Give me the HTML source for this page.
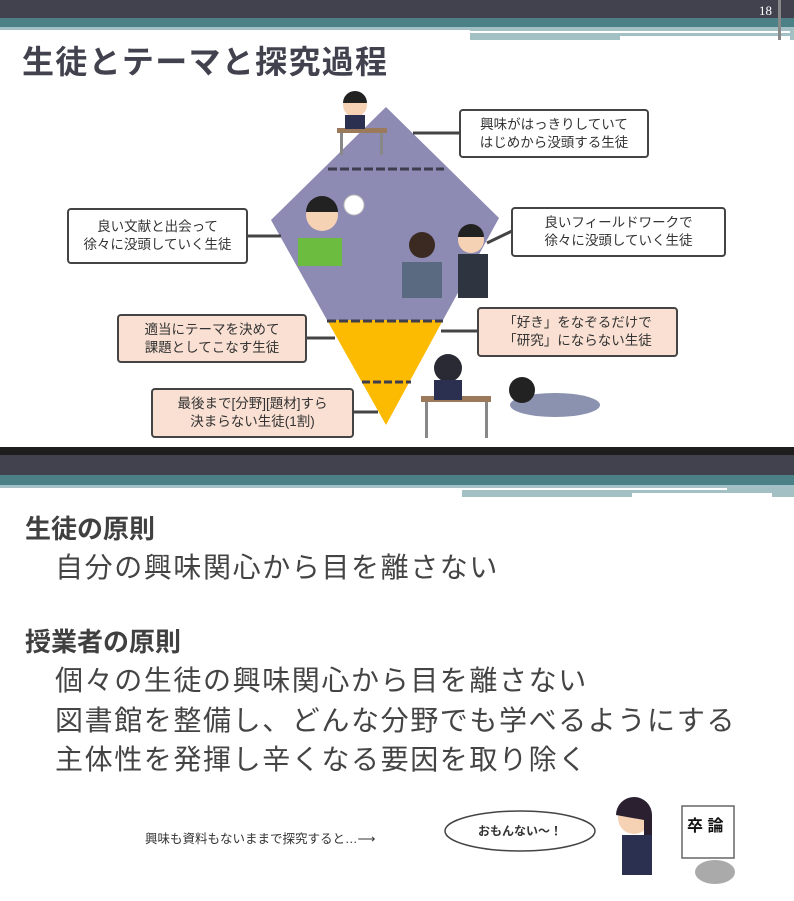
<!DOCTYPE html>
<html><head><meta charset="utf-8"><style>
body{margin:0;width:794px;height:901px;position:relative;background:#fff;overflow:hidden;font-family:"Liberation Sans","Noto Sans CJK JP",sans-serif;}
.a{position:absolute;}
.box{position:absolute;border:2px solid #444;border-radius:4px;font-size:13.5px;line-height:18px;color:#333;text-align:center;box-sizing:border-box;display:flex;align-items:center;justify-content:center;}
.w{background:#fff}.p{background:#f9e0d3}
.t{position:absolute;color:#444;font-size:28px;left:55px;letter-spacing:1.6px;}
.h{position:absolute;left:25px;font-size:26px;font-weight:bold;color:#404040;}
</style></head><body>
<svg class="a" style="left:0;top:0" width="794" height="901">
<rect x="0" y="0" width="794" height="18" fill="#42424f"/>
<rect x="0" y="18" width="794" height="9" fill="#4a8086"/>
<rect x="0" y="27" width="470" height="3" fill="#a3c1c4"/>
<rect x="470" y="27" width="324" height="13" fill="#a3c1c4"/>
<rect x="470" y="31" width="320" height="2" fill="#fff"/>
<rect x="620" y="36" width="170" height="5" fill="#fff"/>
<rect x="778" y="0" width="3" height="40" fill="#888"/>
<polygon points="386,107 499,218 443,320 327,320 271,220" fill="#8d8ab3"/>
<polygon points="327,320 443,320 386,425" fill="#fcbb00"/>
<line x1="328" y1="169" x2="444" y2="169" stroke="#3d3d4d" stroke-width="3" stroke-dasharray="9,3"/>
<line x1="327" y1="321" x2="443" y2="321" stroke="#3d3d4d" stroke-width="3" stroke-dasharray="9,3"/>
<line x1="362" y1="382" x2="411" y2="382" stroke="#3d3d4d" stroke-width="3" stroke-dasharray="8,3"/>
<g stroke="#444" stroke-width="3">
<line x1="413" y1="133" x2="460" y2="133"/>
<line x1="247" y1="236" x2="281" y2="236"/>
<line x1="487" y1="243" x2="512" y2="231"/>
<line x1="306" y1="338" x2="335" y2="338"/>
<line x1="441" y1="331" x2="478" y2="331"/>
<line x1="353" y1="412" x2="378" y2="412"/>
</g>
<rect x="337" y="128" width="50" height="5" fill="#9a7a5a"/><rect x="340" y="133" width="3" height="22" fill="#888"/><rect x="380" y="133" width="3" height="22" fill="#888"/>
<circle cx="355" cy="105" r="12" fill="#f6d2b5"/><path d="M343 103 a12 12 0 0 1 24 0z" fill="#222"/><rect x="345" y="115" width="20" height="14" fill="#2c3050"/>
<circle cx="322" cy="215" r="16" fill="#f6d2b5"/><path d="M306 212 a16 16 0 0 1 32 0z" fill="#222"/><rect x="298" y="238" width="44" height="28" fill="#6cbd3f"/>
<circle cx="354" cy="205" r="10" fill="#fff" stroke="#bbb"/>
<circle cx="422" cy="245" r="13" fill="#3a2a22"/><rect x="402" y="262" width="40" height="36" fill="#5a6a80"/>
<circle cx="471" cy="240" r="13" fill="#f6d2b5"/><path d="M458 237 a13 13 0 0 1 26 0z" fill="#222"/><rect x="458" y="254" width="30" height="44" fill="#2e3440"/>
<rect x="421" y="396" width="70" height="6" fill="#9a7a5a"/><rect x="425" y="402" width="3" height="36" fill="#888"/><rect x="485" y="402" width="3" height="36" fill="#888"/>
<circle cx="448" cy="368" r="14" fill="#2a2a35"/><rect x="434" y="380" width="28" height="20" fill="#2c3050"/>
<ellipse cx="555" cy="405" rx="45" ry="12" fill="#8a92b0"/><circle cx="522" cy="390" r="13" fill="#222"/>
<rect x="0" y="447" width="794" height="8" fill="#1e1e1e"/>
<rect x="0" y="455" width="794" height="20" fill="#42424f"/>
<rect x="0" y="475" width="794" height="10" fill="#4a8086"/>
<rect x="0" y="485" width="462" height="3" fill="#a3c1c4"/>
<rect x="462" y="485" width="332" height="12" fill="#a3c1c4"/>
<rect x="462" y="488" width="265" height="2" fill="#fff"/>
<rect x="632" y="493" width="140" height="5" fill="#fff"/>
<ellipse cx="520" cy="831" rx="75" ry="20" fill="#fff" stroke="#444" stroke-width="1.5"/>
<circle cx="634" cy="818" r="16" fill="#f6d2b5"/><path d="M616 815 a18 18 0 0 1 36 0 l0 25 -8 0 0 -20z" fill="#2a2030"/>
<rect x="622" y="835" width="30" height="40" fill="#2c3050"/>
<rect x="682" y="806" width="52" height="52" fill="#fff" stroke="#666" stroke-width="1.5"/>
<ellipse cx="715" cy="872" rx="20" ry="12" fill="#aaa"/>
</svg>
<div class="a" style="left:759px;top:3px;color:#fff;font-size:13px;font-family:'Liberation Serif',serif">18</div>
<div class="a" style="left:22px;top:37px;font-size:32px;font-weight:bold;color:#42424f;letter-spacing:1.3px">生徒とテーマと探究過程</div>
<div class="box w" style="left:459px;top:109px;width:190px;height:49px">興味がはっきりしていて<br>はじめから没頭する生徒</div>
<div class="box w" style="left:67px;top:208px;width:181px;height:56px">良い文献と出会って<br>徐々に没頭していく生徒</div>
<div class="box w" style="left:511px;top:207px;width:215px;height:50px">良いフィールドワークで<br>徐々に没頭していく生徒</div>
<div class="box p" style="left:117px;top:314px;width:190px;height:49px">適当にテーマを決めて<br>課題としてこなす生徒</div>
<div class="box p" style="left:477px;top:307px;width:201px;height:50px">「好き」をなぞるだけで<br>「研究」にならない生徒</div>
<div class="box p" style="left:151px;top:388px;width:203px;height:50px">最後まで[分野][題材]すら<br>決まらない生徒(1割)</div>
<div class="h" style="top:509px">生徒の原則</div>
<div class="t" style="top:546px">自分の興味関心から目を離さない</div>
<div class="h" style="top:622px">授業者の原則</div>
<div class="t" style="top:659px">個々の生徒の興味関心から目を離さない</div>
<div class="t" style="top:699px">図書館を整備し、どんな分野でも学べるようにする</div>
<div class="t" style="top:738px">主体性を発揮し辛くなる要因を取り除く</div>
<div class="a" style="left:145px;top:828px;font-size:12.5px;color:#333">興味も資料もないままで探究すると…⟶</div>
<div class="a" style="left:478px;top:822px;font-size:12px;color:#333;font-weight:bold">おもんない～！</div>
<div class="a" style="left:687px;top:812px;font-size:16px;font-weight:bold;color:#111">卒 論</div>
</body></html>
